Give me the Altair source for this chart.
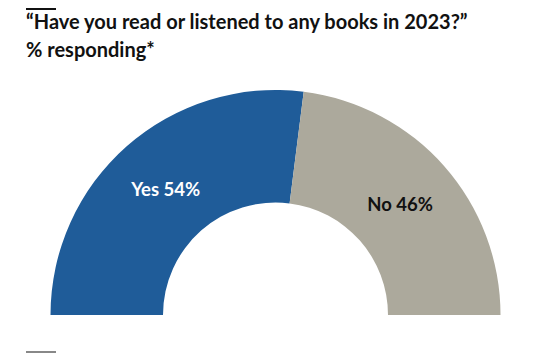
import altair as alt
import pandas as pd

categories = ["Yes", "No"]
values = [54, 46]
labels = ["Yes 54%", "No 46%"]
colors = ["#1f5c99", "#aca99c"]
label_colors = ["#ffffff", "#111111"]
title_lines = ["\u201cHave you read or listened to any books in 2023?\u201d", "% responding*"]

df = pd.DataFrame({"category": categories, "value": values, "label": labels,
                   "order": list(range(len(categories)))})
tdf = pd.DataFrame({"line": title_lines, "i": list(range(len(title_lines)))})

W, H = 542, 345
cx, cy = 267.5, 307

base = alt.Chart(df).encode(
    theta=alt.Theta("value:Q", stack=True,
                    scale=alt.Scale(range=[-1.5708, 1.5708])),
    order=alt.Order("order:Q"),
)

arcs = base.mark_arc(outerRadius=225, innerRadius=112.5).encode(
    x=alt.value(cx), y=alt.value(cy),
    color=alt.Color("category:N", scale=alt.Scale(domain=categories, range=colors), legend=None),
)

text = base.mark_text(radius=166, fontSize=18.5, font="Lato", fontWeight="bold",
                      baseline="middle").encode(
    x=alt.value(cx), y=alt.value(cy),
    text="label:N",
    color=alt.Color("category:N", scale=alt.Scale(domain=categories, range=label_colors), legend=None),
)

title = alt.Chart(tdf).mark_text(align="left", baseline="alphabetic", fontSize=20,
                                 font="Lato", fontWeight="bold", color="#111111").encode(
    x=alt.value(18),
    y=alt.Y("i:Q", scale=alt.Scale(domain=[0, 1], range=[21, 49]), axis=None),
    text="line:N",
)

top_rule = alt.Chart(df.head(1)).mark_rule(color="#111111", strokeWidth=2).encode(
    x=alt.value(18), x2=alt.value(48), y=alt.value(1))
bottom_rule = alt.Chart(df.head(1)).mark_rule(color="#888888", strokeWidth=2).encode(
    x=alt.value(18), x2=alt.value(48), y=alt.value(344))

chart = alt.layer(arcs, text, title, top_rule, bottom_rule).resolve_scale(
    color="independent", y="independent"
).properties(
    width=W, height=H, padding=0
).configure_view(stroke=None)

chart.save("out.html", embed_options={"renderer": "svg", "actions": False})
